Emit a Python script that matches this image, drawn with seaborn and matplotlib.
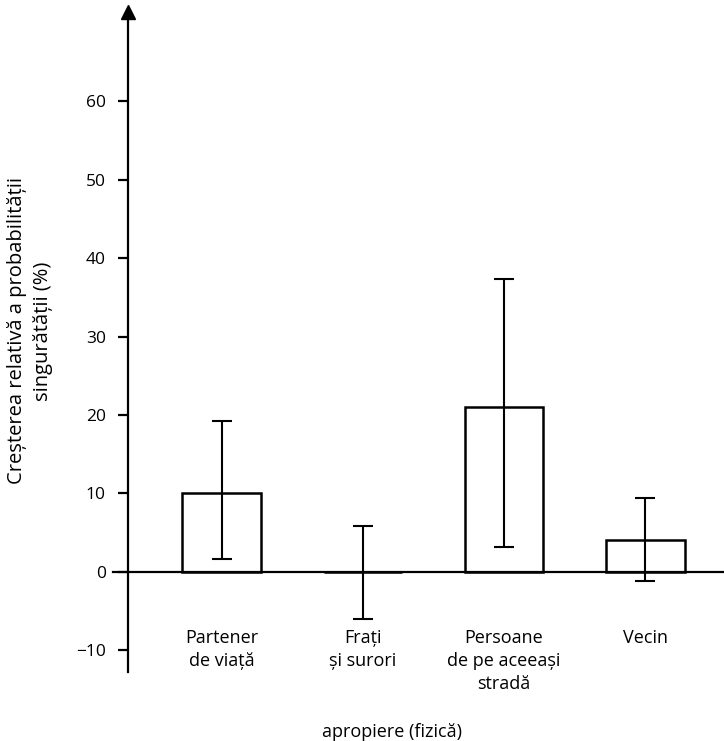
import matplotlib
matplotlib.use("Agg")
import matplotlib.pyplot as plt
import seaborn as sns
import numpy as np
import pandas as pd

# ---- data ----
categories = ["Partener\nde viață", "Frați\nși surori", "Persoane\nde pe aceeași\nstradă", "Vecin"]
values = [10.0, 0.0, 21.0, 4.1]
err_low = [1.6, -6.0, 3.2, -1.2]
err_high = [19.2, 5.9, 37.3, 9.4]
yticks = [-10, 0, 10, 20, 30, 40, 50, 60]
ylabel = "Creșterea relativă a probabilității\nsingurătății (%)"
xlabel = "apropiere (fizică)"

sns.set_style("white")
plt.rcParams["font.family"] = ["Open Sans", "DejaVu Sans"]
plt.rcParams["text.color"] = "black"
plt.rcParams["axes.labelcolor"] = "black"
plt.rcParams["xtick.color"] = "black"
plt.rcParams["ytick.color"] = "black"

W, H = 724, 741
fig = plt.figure(figsize=(W / 100, H / 100), dpi=100)
ax = fig.add_axes([100 / W, (H - 672) / H, 624 / W, 660 / H])

df = pd.DataFrame({"cat": categories, "val": values})
sns.barplot(data=df, x="cat", y="val", ax=ax, fill=False, edgecolor="black",
            linewidth=1.8, width=0.56, errorbar=None)
for p in ax.patches:
    p.set_edgecolor("black")
    p.set_linewidth(1.8)
    p.set_facecolor("none")

x = np.arange(len(categories))
vals = np.array(values)
yerr = np.vstack([vals - np.array(err_low), np.array(err_high) - vals])
ax.errorbar(x, vals, yerr=yerr, fmt="none", ecolor="black", elinewidth=1.5,
            capsize=7, capthick=1.5, zorder=5)

ax.set_xlim(-0.865, 3.56)
ax.set_ylim(-12.74, 71.34)
ax.set_yticks(yticks)
ax.set_yticklabels([("\u2212" + str(-t)) if t < 0 else str(t) for t in yticks])

for s in ["top", "right"]:
    ax.spines[s].set_visible(False)
ax.spines["left"].set_position(("data", -0.667))
ax.spines["bottom"].set_position(("data", 0))
ax.spines["bottom"].set_bounds(-0.775, 3.56)
for s in ["left", "bottom"]:
    ax.spines[s].set_color("black")
    ax.spines[s].set_linewidth(1.6)

ax.plot(-0.667, 1, marker="^", color="black", markersize=10,
        transform=ax.get_xaxis_transform(), clip_on=False)

ax.tick_params(axis="y", length=7, width=1.6, color="black", pad=9,
               labelsize=12.5, left=True, direction="out", labelcolor="black")
ax.tick_params(axis="x", length=0, pad=41, labelsize=13, labelcolor="black")
for lbl in ax.get_xticklabels():
    lbl.set_linespacing(1.35)
    lbl.set_verticalalignment("top")

ax.set_xlabel(xlabel, fontsize=13, color="black")
ax.xaxis.set_label_coords((392 - 100) / 624, (672 - 723) / 660)
ax.set_ylabel(ylabel, fontsize=14.5, va="center", linespacing=1.35, color="black")
ax.yaxis.set_label_coords((30 - 100) / 624, (672 - 331) / 660)

fig.savefig("out.png", dpi=100, facecolor="white")
